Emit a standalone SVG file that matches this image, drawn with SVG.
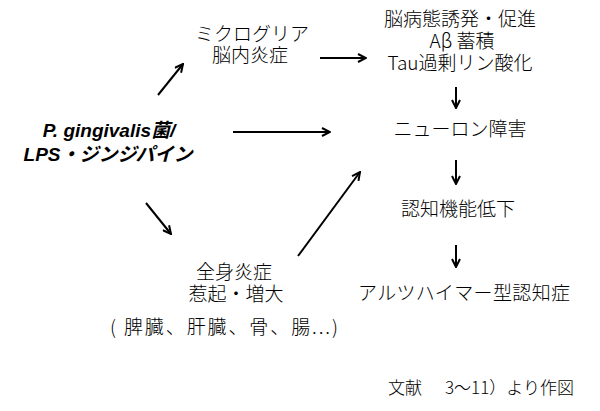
<svg xmlns="http://www.w3.org/2000/svg" width="600" height="411" viewBox="0 0 600 411">
<style>
text{font-family:"Noto Sans CJK JP","Liberation Sans",sans-serif;font-size:19px;font-weight:300;fill:#000;text-anchor:middle}
.bi{font-family:"Liberation Sans","Noto Sans CJK JP",sans-serif;font-weight:bold;font-style:italic}
.src{font-size:17px;text-anchor:start}
.c{stroke:#000;stroke-width:2;fill:none;marker-end:url(#ah)}
</style>
<defs>
<marker id="ah" viewBox="0 0 10 10" refX="9" refY="5" markerWidth="10" markerHeight="10" markerUnits="userSpaceOnUse" orient="auto">
<path d="M1,1 L9,5 L1,9" fill="none" stroke="#000" stroke-width="2"/>
</marker>
</defs>
<rect width="600" height="411" fill="#fff"/>
<g id="connectors">
<line class="c" x1="158" y1="95" x2="183" y2="64"/>
<line class="c" x1="320" y1="58" x2="366" y2="58"/>
<line class="c" x1="233" y1="132" x2="330" y2="132"/>
<line class="c" x1="146" y1="203" x2="171" y2="234"/>
<line class="c" x1="298" y1="256" x2="360" y2="172"/>
<line class="c" x1="456" y1="87" x2="456" y2="108"/>
<line class="c" x1="456" y1="160" x2="456" y2="184"/>
<line class="c" x1="456" y1="245" x2="456" y2="267"/>
</g>
<g id="source">
<text class="bi" x="109" y="137">P. gingivalis菌/</text>
<text class="bi" x="108" y="161">LPS・ジンジパイン</text>
</g>
<g id="microglia">
<text x="252" y="41">ミクログリア</text>
<text x="250" y="62">脳内炎症</text>
</g>
<g id="brain">
<text x="460" y="26">脳病態誘発・促進</text>
<text x="462" y="48">Aβ 蓄積</text>
<text x="460" y="70">Tau過剰リン酸化</text>
</g>
<g id="neuron">
<text x="460" y="136">ニューロン障害</text>
</g>
<g id="cognitive">
<text x="458" y="216">認知機能低下</text>
</g>
<g id="alzheimer">
<text x="464" y="300" textLength="212">アルツハイマー型認知症</text>
</g>
<g id="systemic">
<text x="234" y="279">全身炎症</text>
<text x="236" y="301">惹起・増大</text>
<text x="224" y="334" textLength="228">( 脾臓、肝臓、骨、腸...)</text>
</g>
<g id="note">
<text class="src" x="388" y="394">文献<tspan x="445">3～11）より作図</tspan></text>
</g>
</svg>
